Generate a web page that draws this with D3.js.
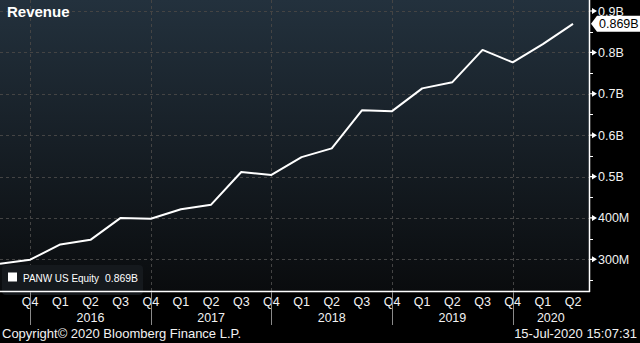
<!DOCTYPE html>
<html><head><meta charset="utf-8">
<script src="https://cdn.jsdelivr.net/npm/d3@7"></script>
<style>html,body{margin:0;padding:0;background:#000;overflow:hidden}</style>
</head><body>
<script>
// ---- data ----
const quarters = ["Q3","Q4","Q1","Q2","Q3","Q4","Q1","Q2","Q3","Q4","Q1","Q2","Q3","Q4","Q1","Q2","Q3","Q4","Q1","Q2"];
const revenueM = [289,299,336,347,400,398,421,432,511,504,547,568,660,658,713,728,806,776,820,869];
const yearLabels = ["2016","2017","2018","2019","2020"];
const yTickValues = [300,400,500,600,700,800,900];
const yTickLabels = ["300M","400M","0.5B","0.6B","0.7B","0.8B","0.9B"];
const seriesName = "PANW US Equity";
const lastLabel = "0.869B";
const title = "Revenue";
const footerLeft = "Copyright\u00a9 2020 Bloomberg Finance L.P.";
const footerRight = "15-Jul-2020 15:07:31";

const W = 640, H = 343;
const plotR = 589, plotB = 291;
const font = "'Liberation Sans', Arial, sans-serif";

const svg = d3.select("body").append("svg").attr("width", W).attr("height", H)
  .style("display","block").style("background","#000");

const x = d3.scaleLinear().domain([0, quarters.length - 1]).range([0, 573]);
const y = d3.scaleLinear().domain([223.4, 926.6]).range([plotB, 0]);

const defs = svg.append("defs");
const grad = defs.append("linearGradient").attr("id","bg").attr("x1",0).attr("y1",0).attr("x2",0).attr("y2",1);
grad.append("stop").attr("offset","0%").attr("stop-color","#23313d");
grad.append("stop").attr("offset","100%").attr("stop-color","#0a0c0e");
defs.append("clipPath").attr("id","clip").append("rect").attr("x",0).attr("y",0).attr("width",plotR).attr("height",plotB);

svg.append("rect").attr("x",0).attr("y",0).attr("width",plotR).attr("height",plotB).attr("fill","url(#bg)");

// separators at Q4 positions
const q4idx = quarters.map((q,i)=>q==="Q4"?i:-1).filter(i=>i>=0);

// grid
const grid = svg.append("g").attr("clip-path","url(#clip)");
grid.selectAll("line.h").data(yTickValues).join("line")
  .attr("x1",0).attr("x2",plotR).attr("y1",d=>Math.round(y(d))+0.5).attr("y2",d=>Math.round(y(d))+0.5)
  .attr("stroke","#444").attr("stroke-width",1).attr("stroke-dasharray","3,3");
grid.selectAll("line.v").data(q4idx).join("line")
  .attr("x1",d=>Math.round(x(d))+0.5).attr("x2",d=>Math.round(x(d))+0.5).attr("y1",0).attr("y2",plotB)
  .attr("stroke","#444").attr("stroke-width",1).attr("stroke-dasharray","3,3");

// line
svg.append("path").datum(revenueM).attr("clip-path","url(#clip)")
  .attr("fill","none").attr("stroke","#fff").attr("stroke-width",2).attr("stroke-linejoin","round")
  .attr("d", d3.line().x((d,i)=>x(i)).y(d=>y(d)));

// legend
svg.append("rect").attr("x",2).attr("y",265).attr("width",141).attr("height",30).attr("rx",4)
  .attr("fill","#15191d");
svg.append("rect").attr("x",8).attr("y",272.5).attr("width",9).attr("height",9).attr("fill","#fff");
svg.append("text").attr("x",23).attr("y",282).attr("fill","#fff").attr("font-family",font).attr("font-size",10.5)
  .attr("textLength",76).attr("lengthAdjust","spacingAndGlyphs").text(seriesName);
svg.append("text").attr("x",105).attr("y",282).attr("fill","#fff").attr("font-family",font).attr("font-size",10.5)
  .attr("textLength",33).attr("lengthAdjust","spacingAndGlyphs").text(lastLabel);

// axes lines
svg.append("line").attr("x1",plotR+0.5).attr("x2",plotR+0.5).attr("y1",0).attr("y2",plotB+1).attr("stroke","#fff").attr("stroke-width",1.5);
svg.append("line").attr("x1",0).attr("x2",plotR+1).attr("y1",plotB+0.5).attr("y2",plotB+0.5).attr("stroke","#fff").attr("stroke-width",1.5);

// minor ticks
const minor = d3.range(250, 926, 100);
svg.selectAll("line.mn").data(minor).join("line")
  .attr("x1",plotR).attr("x2",plotR+4).attr("y1",d=>Math.round(y(d))+0.5).attr("y2",d=>Math.round(y(d))+0.5)
  .attr("stroke","#fff").attr("stroke-width",1);

// major ticks
const yt = svg.append("g");
yt.selectAll("path").data(yTickValues).join("path")
  .attr("d", d=>{const yy=y(d); return `M${plotR},${yy-0.6}L${plotR+3},${yy-0.6}L${plotR+3},${yy-3}L${plotR+8},${yy}L${plotR+3},${yy+3}L${plotR+3},${yy+0.6}L${plotR},${yy+0.6}Z`;})
  .attr("fill","#fff");
yt.selectAll("text").data(yTickValues).join("text")
  .attr("x", plotR+9).attr("y", d=>y(d)+4.5)
  .attr("fill","#f2f2f2").attr("font-family",font).attr("font-size",12.5)
  .text((d,i)=>yTickLabels[i]);

// x labels
svg.selectAll("text.q").data(quarters.map((q,i)=>({q,i})).filter(d=>d.i>0)).join("text")
  .attr("x", d=>x(d.i)).attr("y", 306).attr("text-anchor","middle")
  .attr("fill","#f2f2f2").attr("font-family",font).attr("font-size",12.5)
  .text(d=>d.q);

svg.selectAll("line.sep").data(q4idx).join("line")
  .attr("x1",d=>Math.round(x(d))+0.5).attr("x2",d=>Math.round(x(d))+0.5).attr("y1",plotB+1).attr("y2",325)
  .attr("stroke","#8a8a8a").attr("stroke-width",1);

const bounds = q4idx.map(i=>x(i)).concat([plotR]);
svg.selectAll("text.yr").data(yearLabels).join("text")
  .attr("x",(d,i)=>(bounds[i]+bounds[i+1])/2).attr("y",322).attr("text-anchor","middle")
  .attr("fill","#f2f2f2").attr("font-family",font).attr("font-size",12.5)
  .text(d=>d);

// title
svg.append("text").attr("x",7).attr("y",17).attr("fill","#fff").attr("font-family",font)
  .attr("font-weight","bold").attr("font-size",15).text(title);

// last value label
const ly = y(revenueM[revenueM.length-1]);
svg.append("path").attr("d",`M${plotR+2},${ly}L${plotR+8},${ly-8}L${W},${ly-8}L${W},${ly+8}L${plotR+8},${ly+8}Z`).attr("fill","#fff");
svg.append("text").attr("x",plotR+10).attr("y",ly+4.5).attr("fill","#000").attr("font-family",font).attr("font-size",12.5)
  .text(lastLabel);

// footer
svg.append("text").attr("x",2).attr("y",338).attr("fill","#f2f2f2").attr("font-family",font).attr("font-size",13).text(footerLeft);
svg.append("text").attr("x",637).attr("y",338).attr("text-anchor","end").attr("fill","#f2f2f2").attr("font-family",font).attr("font-size",13).text(footerRight);
</script>
</body></html>
